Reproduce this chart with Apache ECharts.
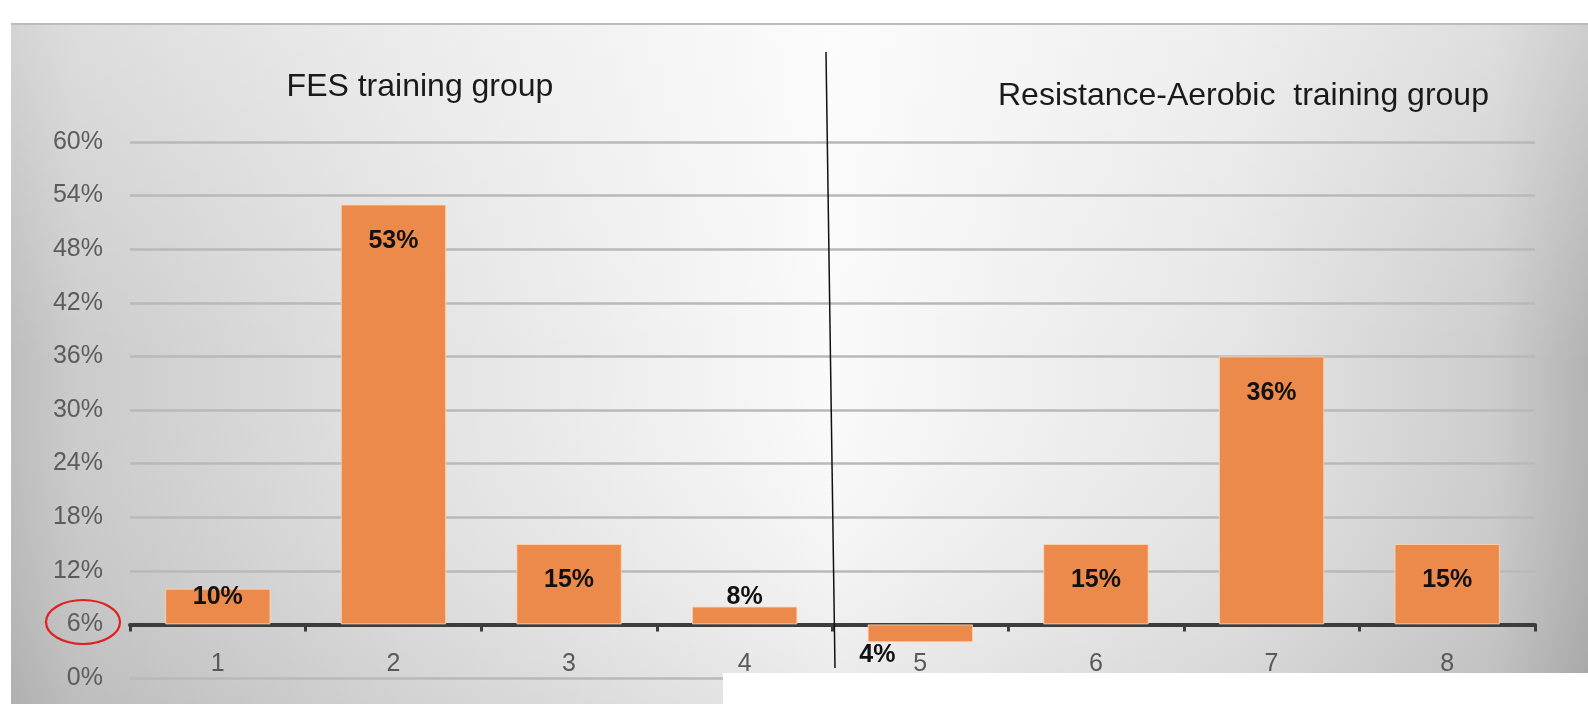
<!DOCTYPE html>
<html>
<head>
<meta charset="utf-8">
<script src="https://cdn.jsdelivr.net/npm/echarts@6/dist/echarts.min.js"></script>
<style>
  html, body { margin: 0; padding: 0; background: #fff; }
  #chart { width: 1588px; height: 704px; }
</style>
</head>
<body>
<div id="chart"></div>
<script>
// Participants per category, as percentages
const categories = ['1', '2', '3', '4', '5', '6', '7', '8'];
const shareValues = [10, 53, 15, 8, 4, 15, 36, 15];
const baselineValue = 6;          // bars grow from the 6% line
const yMin = 0, yMax = 60, yStep = 6;
const groupTitles = ['FES training group', 'Resistance-Aerobic  training group'];

const W = 1588, H = 704;
const grid = { left: 130, right: 53, top: 142, bottom: 26 };
const plotHeight = H - grid.top - grid.bottom;
const FONT = '"Liberation Sans", Arial, sans-serif';
const ORANGE = '#EB8A4B';

// label placement per bar (only the special ones)
const labelPlacement = {
  0: { position: 'insideTop', distance: -4 },
  3: { position: 'top', distance: -3 },
  4: { position: 'bottom', distance: 0, offset: [-43, 0] }
};

const chart = echarts.init(document.getElementById('chart'), null, { renderer: 'canvas' });

const visibleData = shareValues.map((v, i) => {
  const item = { value: Math.abs(v - baselineValue) };
  if (labelPlacement[i]) item.label = Object.assign({}, labelPlacement[i]);
  return item;
});

chart.setOption({
  backgroundColor: '#ffffff',
  animation: false,
  grid: grid,
  xAxis: {
    type: 'category',
    data: categories,
    offset: -plotHeight * (baselineValue - yMin) / (yMax - yMin),
    axisLine: { onZero: false, lineStyle: { color: '#3c3c3c', width: 4 } },
    axisTick: { show: true, length: 7, lineStyle: { color: '#3c3c3c', width: 3 } },
    axisLabel: { color: '#595959', fontSize: 25, fontFamily: FONT, margin: 27 },
    splitLine: { show: false }
  },
  yAxis: {
    type: 'value',
    min: yMin, max: yMax, interval: yStep,
    axisLine: { show: false },
    axisTick: { show: false },
    axisLabel: { formatter: '{value}%', color: '#5c5c5c', fontSize: 25, fontFamily: FONT, margin: 27,
                 padding: [4, 0, 0, 0] },
    splitLine: { lineStyle: { color: '#b9b9b9', width: 2.5 } }
  },
  graphic: [
    {
      type: 'rect', z: -20, silent: true,
      shape: { x: 11, y: 23, width: W - 11, height: H - 23 },
      style: {
        fill: new echarts.graphic.LinearGradient(0, 0, 1, 0, [
          { offset: 0, color: '#bdbdbd' },
          { offset: 0.04, color: '#cbcbcb' },
          { offset: 0.25, color: '#e2e2e2' },
          { offset: 0.52, color: '#fafafa' },
          { offset: 0.78, color: '#e5e5e5' },
          { offset: 0.94, color: '#cdcdcd' },
          { offset: 1, color: '#b3b3b3' }
        ])
      }
    },
    {
      type: 'rect', z: -19, silent: true,
      shape: { x: 11, y: 23, width: W - 11, height: H - 23 },
      style: {
        fill: new echarts.graphic.LinearGradient(0, 0, 0, 1, [
          { offset: 0, color: 'rgba(255,255,255,0.35)' },
          { offset: 0.5, color: 'rgba(255,255,255,0)' },
          { offset: 1, color: 'rgba(0,0,0,0.07)' }
        ])
      }
    },
    {
      type: 'line', z: -18, silent: true,
      shape: { x1: 11, y1: 24, x2: W, y2: 24 },
      style: { stroke: '#bcbcbc', lineWidth: 2 }
    },
    {
      type: 'text', z: 10, silent: true,
      style: { text: groupTitles[0], x: 420, y: 87, textAlign: 'center', textVerticalAlign: 'middle',
               font: '32px ' + FONT, fill: '#1a1a1a' }
    },
    {
      type: 'text', z: 10, silent: true,
      style: { text: groupTitles[1], x: 998, y: 96, textAlign: 'left', textVerticalAlign: 'middle',
               font: '32px ' + FONT, fill: '#1a1a1a' }
    },
    {
      type: 'line', z: 20, silent: true,
      shape: { x1: 826, y1: 52, x2: 835, y2: 668 },
      style: { stroke: '#111', lineWidth: 1.5 }
    },
    {
      type: 'ellipse', z: 20, silent: true,
      shape: { cx: 83, cy: 622, rx: 37, ry: 22 },
      style: { fill: 'none', stroke: '#e0201e', lineWidth: 2.2 }
    },
    {
      type: 'rect', z: 30, silent: true,
      shape: { x: 723, y: 673, width: W - 723, height: H - 673 },
      style: { fill: '#ffffff' }
    }
  ],
  series: [
    {
      name: 'base',
      type: 'bar',
      stack: 'share',
      silent: true,
      barWidth: '60%',
      itemStyle: { color: 'transparent' },
      data: shareValues.map(v => Math.min(v, baselineValue))
    },
    {
      name: 'share',
      type: 'bar',
      stack: 'share',
      barWidth: '60%',
      itemStyle: { color: ORANGE, borderColor: 'rgba(255,214,180,0.8)', borderWidth: 1 },
      label: {
        show: true,
        position: 'insideTop',
        distance: 24,
        color: '#111',
        fontWeight: 'bold',
        fontSize: 25,
        fontFamily: FONT,
        formatter: p => shareValues[p.dataIndex] + '%'
      },
      data: visibleData
    }
  ]
});
</script>
</body>
</html>
